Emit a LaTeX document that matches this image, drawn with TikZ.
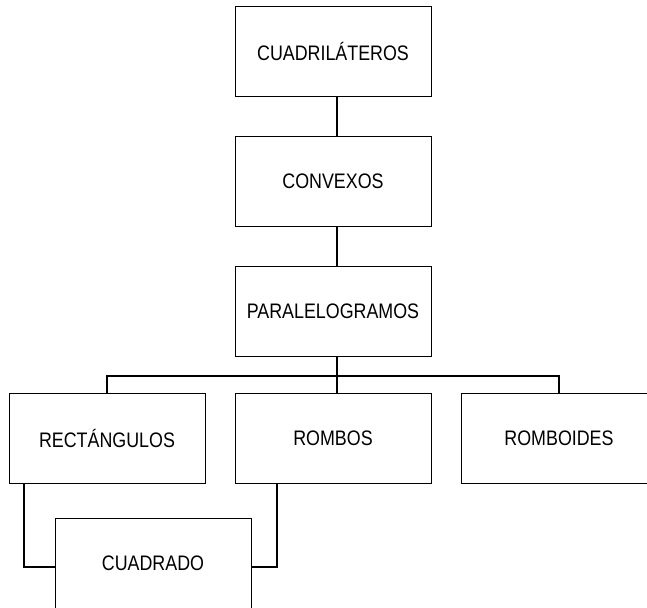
\documentclass[tikz,border=0pt]{standalone}
\usepackage{fontspec}
\setmainfont{Liberation Sans}[FakeStretch=0.85]
\begin{document}
\begin{tikzpicture}[x=1pt,y=-1pt,
  box/.style={draw, line width=0.8pt, minimum width=196pt, minimum height=90pt, inner sep=0pt,
    font=\fontsize{21}{25}\selectfont},
  conn/.style={line width=2.2pt}]
\useasboundingbox (0,0) rectangle (647,607);
\clip (0,0) rectangle (647,607);
\node[box] (A) at (333,51) {CUADRILÁTEROS};
\node[box] (B) at (333,181) {CONVEXOS};
\node[box] (C) at (333,311) {PARALELOGRAMOS};
\node[box] (D) at (107,438.5) {RECTÁNGULOS};
\node[box] (E) at (333,438.5) {ROMBOS};
\node[box] (F) at (559,438.5) {ROMBOIDES};
\node[box] (G) at (153,563) {CUADRADO};
\coordinate (bar) at (337,376);
\draw[conn] ([xshift=4pt]A.south) -- ([xshift=4pt]B.north);
\draw[conn] ([xshift=4pt]B.south) -- ([xshift=4pt]C.north);
\draw[conn] ([xshift=4pt]C.south) -- ([xshift=4pt]E.north);
\draw[conn] (D.north) |- (bar) -| (F.north);
\draw[conn] ([xshift=15pt]D.south west) |- ([yshift=-4pt]G.west);
\draw[conn] ([xshift=42pt]E.south west) |- ([yshift=-4pt]G.east);
\end{tikzpicture}
\end{document}
